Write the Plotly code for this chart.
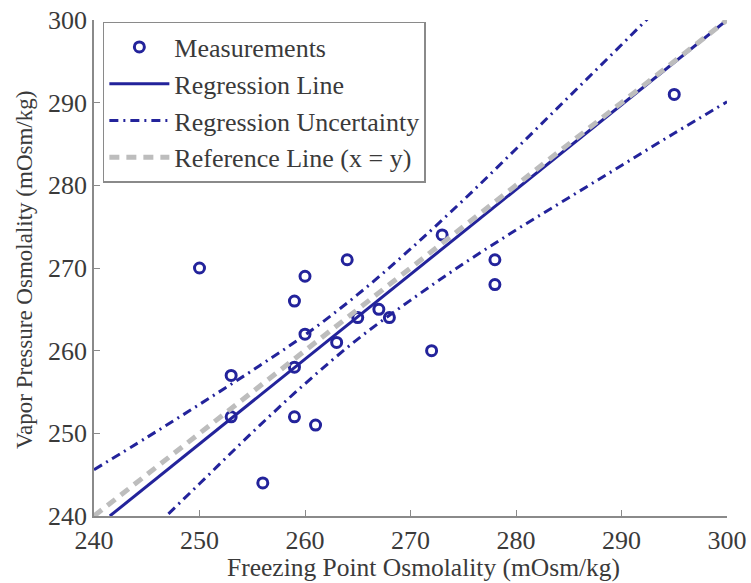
import plotly.graph_objects as go

# Measurements
meas_x = [250, 253, 253, 256, 259, 259, 259, 260, 260, 261, 263, 264, 265, 267, 268, 272, 273, 278, 278, 295]
meas_y = [270, 257, 252, 244, 266, 258, 252, 269, 262, 251, 261, 271, 264, 265, 264, 260, 274, 271, 268, 291]

# Regression line
reg_x = [241.5, 300]
reg_y = [240.0, 300.0]

# Regression uncertainty bands
band_x = [240, 245, 250, 255, 260, 265, 270, 275, 280, 285, 290, 295, 300]
upper_y = [245.6, 249.5, 253.5, 257.6, 261.9, 266.8, 272.3, 278.2, 284.4, 290.7, 297.0, 303.4, 309.9]
lower_y = [231.3, 237.7, 243.9, 250.1, 256.0, 261.4, 266.1, 270.5, 274.6, 278.5, 282.4, 286.3, 290.1]

# Reference line x = y
ref_x = [240, 300]
ref_y = [240, 300]

x_ticks = [240, 250, 260, 270, 280, 290, 300]
y_ticks = [240, 250, 260, 270, 280, 290, 300]

x_title = "Freezing Point Osmolality (mOsm/kg)"
y_title = "Vapor Pressure Osmolality (mOsm/kg)"

blue = "#23239b"
gray = "#bdbdbd"
font_fam = "Liberation Serif, Times New Roman, serif"
text_col = "#3a3a3a"

fig = go.Figure()
fig.add_trace(go.Scatter(x=meas_x, y=meas_y, mode="markers", name="Measurements",
                         legendgroup="a",
                         marker=dict(symbol="circle-open", size=10, color=blue, line=dict(width=3, color=blue))))
fig.add_trace(go.Scatter(x=reg_x, y=reg_y, mode="lines", name="Regression Line",
                         legendgroup="b",
                         line=dict(color=blue, width=3)))
fig.add_trace(go.Scatter(x=band_x, y=upper_y, mode="lines", name="Regression Uncertainty",
                         legendgroup="c", line_shape="spline",
                         line=dict(color=blue, width=3, dash="9px,5px,2px,5px")))
fig.add_trace(go.Scatter(x=band_x, y=lower_y, mode="lines", name="Regression Uncertainty",
                         legendgroup="c", showlegend=False, line_shape="spline",
                         line=dict(color=blue, width=3, dash="9px,5px,2px,5px")))
fig.add_trace(go.Scatter(x=ref_x, y=ref_y, mode="lines", name="Reference Line (x = y)",
                         legendgroup="d",
                         line=dict(color=gray, width=5, dash="10px,7px")))

axis_common = dict(
    showgrid=False, zeroline=False, showline=True, linecolor="#8a8a8a", linewidth=1.5,
    ticks="inside", ticklen=6, tickcolor="#8a8a8a", mirror=False, automargin=False,
    ticklabeloverflow="allow",
)

fig.update_layout(
    width=751, height=583,
    margin=dict(l=94, r=24, t=20, b=67),
    plot_bgcolor="white", paper_bgcolor="white",
    font=dict(family=font_fam, color=text_col, size=20),
    xaxis=dict(range=[240, 300], tickvals=x_ticks, ticktext=[str(v) for v in x_ticks],
               tickfont=dict(family=font_fam, size=26, color=text_col), **axis_common),
    yaxis=dict(range=[240, 300], tickvals=y_ticks, ticktext=[str(v) for v in y_ticks],
               tickfont=dict(family=font_fam, size=26, color=text_col),
               **axis_common),
    showlegend=True,
    legend=dict(x=0.014, y=0.996, xanchor="left", yanchor="top",
                bgcolor="white", bordercolor="#8a8a8a", borderwidth=1.5,
                font=dict(family=font_fam, size=26, color=text_col),
                traceorder="grouped", tracegroupgap=0, itemwidth=60),
    annotations=[
        dict(text=x_title, xref="paper", yref="paper", x=0.521, y=-0.103,
             xanchor="center", yanchor="middle", showarrow=False,
             font=dict(family=font_fam, size=25.5, color=text_col)),
        dict(text=y_title, xref="paper", yref="paper", x=-0.109, y=0.496,
             xanchor="center", yanchor="middle", showarrow=False, textangle=-90,
             font=dict(family=font_fam, size=23, color=text_col)),
    ],
)

fig.write_html("out.html", config={"displayModeBar": False},
               post_script="document.body.style.margin='0';document.body.style.overflow='hidden';")
